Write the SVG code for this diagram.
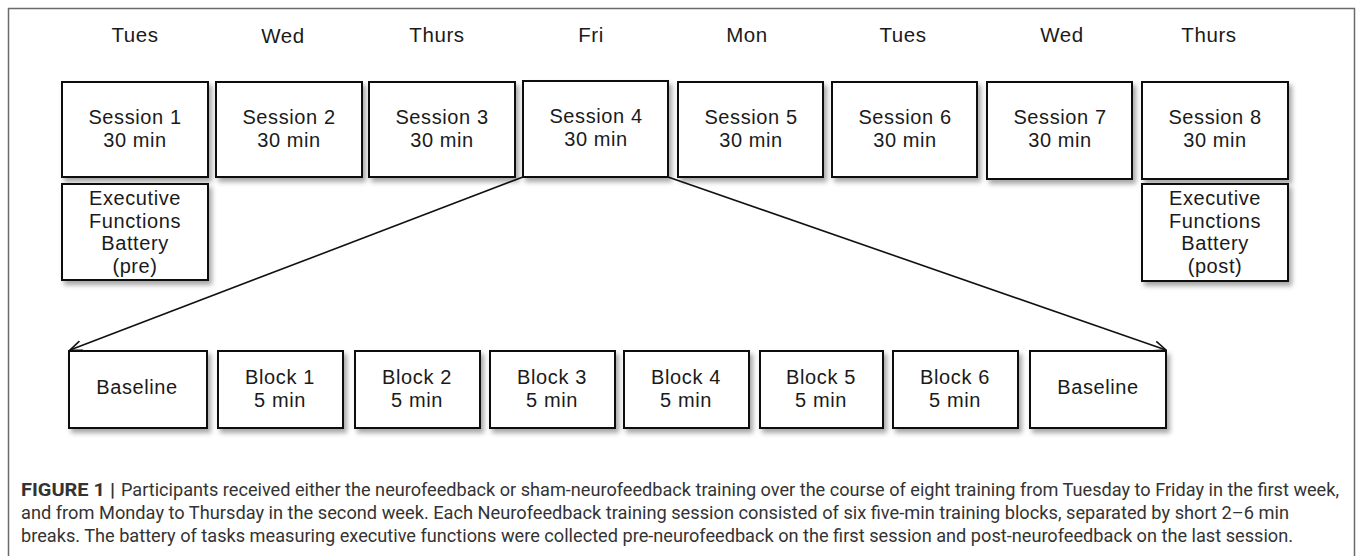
<svg xmlns="http://www.w3.org/2000/svg" width="1358" height="556" viewBox="0 0 1358 556">
<defs>
<filter id="sh" x="-10%" y="-10%" width="130%" height="130%">
<feDropShadow dx="3" dy="4" stdDeviation="2.5" flood-color="#000" flood-opacity="0.35"/>
</filter>
<marker id="arr" markerWidth="14" markerHeight="12" refX="13" refY="6" orient="auto" markerUnits="userSpaceOnUse">
<path d="M1,1 L13,6 L1,11" fill="none" stroke="#111" stroke-width="1.6"/>
</marker>
<style>
.box{fill:#fff;stroke:#111;stroke-width:2;filter:url(#sh)}
.t{font-family:"Liberation Sans",Arial,sans-serif;font-size:20px;letter-spacing:0.6px;fill:#1a1a1a;text-anchor:middle}
.day{font-family:"Liberation Sans",Arial,sans-serif;font-size:20.5px;letter-spacing:0.6px;fill:#1a1a1a;text-anchor:middle}
.cap{font-family:Roboto,"Liberation Sans",sans-serif;font-size:18px;fill:#333}
.conn{stroke:#111;stroke-width:1.6;fill:none}
</style>
</defs>
<rect x="0" y="0" width="1358" height="556" fill="#fff"/>
<path d="M8.5,560 V8.5 H1354.5 V560" fill="none" stroke="#6a6a6a" stroke-width="1.5"/>

<g id="days">
<text class="day" x="135" y="42">Tues</text>
<text class="day" x="283" y="43">Wed</text>
<text class="day" x="437" y="42">Thurs</text>
<text class="day" x="591" y="42">Fri</text>
<text class="day" x="747" y="42">Mon</text>
<text class="day" x="903" y="42">Tues</text>
<text class="day" x="1062" y="42">Wed</text>
<text class="day" x="1209" y="42">Thurs</text>
</g>

<g id="connectors">
<line class="conn" x1="523" y1="177" x2="70" y2="350" marker-end="url(#arr)"/>
<line class="conn" x1="668" y1="177" x2="1166" y2="350" marker-end="url(#arr)"/>
</g>

<g id="session1"><rect class="box" x="62" y="82" width="146" height="95"/><text class="t" x="135" y="124">Session 1</text><text class="t" x="135" y="146.5">30 min</text></g>
<g id="session2"><rect class="box" x="216" y="82" width="146" height="95"/><text class="t" x="289" y="124">Session 2</text><text class="t" x="289" y="146.5">30 min</text></g>
<g id="session3"><rect class="box" x="369" y="82" width="146" height="95"/><text class="t" x="442" y="124">Session 3</text><text class="t" x="442" y="146.5">30 min</text></g>
<g id="session4"><rect class="box" x="523" y="81" width="145" height="96"/><text class="t" x="596" y="123">Session 4</text><text class="t" x="596" y="145.5">30 min</text></g>
<g id="session5"><rect class="box" x="678" y="82" width="145" height="95"/><text class="t" x="751" y="124">Session 5</text><text class="t" x="751" y="146.5">30 min</text></g>
<g id="session6"><rect class="box" x="832" y="82" width="145" height="95"/><text class="t" x="905" y="124">Session 6</text><text class="t" x="905" y="146.5">30 min</text></g>
<g id="session7"><rect class="box" x="987" y="82" width="145" height="97"/><text class="t" x="1060" y="124">Session 7</text><text class="t" x="1060" y="146.5">30 min</text></g>
<g id="session8"><rect class="box" x="1142" y="82" width="146" height="97"/><text class="t" x="1215" y="124">Session 8</text><text class="t" x="1215" y="146.5">30 min</text></g>

<g id="efb-pre"><rect class="box" x="62" y="184" width="146" height="96"/>
<text class="t" x="135" y="205">Executive</text><text class="t" x="135" y="227.5">Functions</text><text class="t" x="135" y="250">Battery</text><text class="t" x="135" y="272.5">(pre)</text></g>
<g id="efb-post"><rect class="box" x="1142" y="184" width="146" height="97"/>
<text class="t" x="1215" y="205">Executive</text><text class="t" x="1215" y="227.5">Functions</text><text class="t" x="1215" y="250">Battery</text><text class="t" x="1215" y="272.5">(post)</text></g>

<g id="baseline1"><rect class="box" x="69" y="351" width="138" height="77"/><text class="t" x="137" y="394">Baseline</text></g>
<g id="block1"><rect class="box" x="218" y="351" width="125" height="77"/><text class="t" x="280" y="384">Block 1</text><text class="t" x="280" y="406.5">5 min</text></g>
<g id="block2"><rect class="box" x="355" y="351" width="125" height="77"/><text class="t" x="417" y="384">Block 2</text><text class="t" x="417" y="406.5">5 min</text></g>
<g id="block3"><rect class="box" x="490" y="351" width="125" height="77"/><text class="t" x="552" y="384">Block 3</text><text class="t" x="552" y="406.5">5 min</text></g>
<g id="block4"><rect class="box" x="624" y="351" width="125" height="77"/><text class="t" x="686" y="384">Block 4</text><text class="t" x="686" y="406.5">5 min</text></g>
<g id="block5"><rect class="box" x="760" y="351" width="123" height="77"/><text class="t" x="821" y="384">Block 5</text><text class="t" x="821" y="406.5">5 min</text></g>
<g id="block6"><rect class="box" x="893" y="351" width="125" height="77"/><text class="t" x="955" y="384">Block 6</text><text class="t" x="955" y="406.5">5 min</text></g>
<g id="baseline2"><rect class="box" x="1030" y="351" width="136" height="77"/><text class="t" x="1098" y="394">Baseline</text></g>

<g id="caption">
<text class="cap" x="21" y="496" textLength="94" lengthAdjust="spacingAndGlyphs" font-weight="bold" fill="#222">FIGURE 1 |</text>
<text class="cap" x="121" y="496" textLength="1218" lengthAdjust="spacingAndGlyphs">Participants received either the neurofeedback or sham-neurofeedback training over the course of eight training from Tuesday to Friday in the first week,</text>
<text class="cap" x="21" y="519" textLength="1268" lengthAdjust="spacingAndGlyphs">and from Monday to Thursday in the second week. Each Neurofeedback training session consisted of six five-min training blocks, separated by short 2–6 min</text>
<text class="cap" x="21" y="542" textLength="1272" lengthAdjust="spacingAndGlyphs">breaks. The battery of tasks measuring executive functions were collected pre-neurofeedback on the first session and post-neurofeedback on the last session.</text>
</g>
</svg>
